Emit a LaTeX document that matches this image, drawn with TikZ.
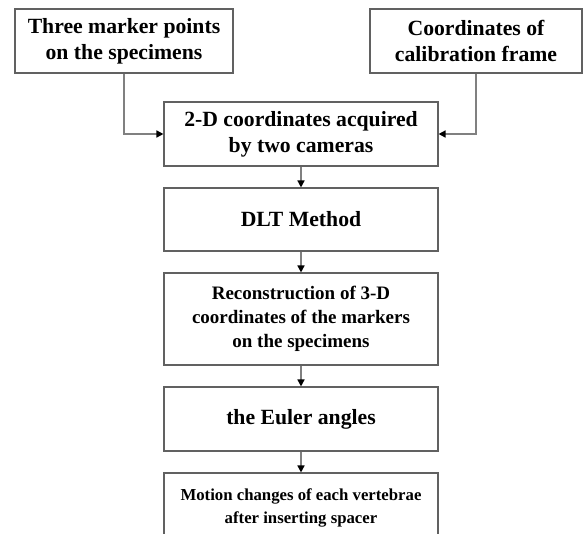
\documentclass[tikz,border=0pt]{standalone}
\usepackage{fontspec}
\setmainfont{Liberation Serif}
\usetikzlibrary{arrows.meta}
\tikzset{
  box/.style={draw=black!62, line width=1.1pt, rectangle, inner sep=0pt, align=center,
    font=\fontsize{21.7}{26}\selectfont\bfseries, text=black},
  conn/.style={draw=black!50, line width=1.5pt, -{Triangle[length=7pt,width=7pt,color=black]}},
}
\begin{document}
\begin{tikzpicture}[x=1pt,y=-1pt]
\useasboundingbox (0,0) rectangle (585,533);
\clip (0,0) rectangle (585,533);
\node[box, minimum width=218pt, minimum height=64pt] (b1) at (124,41) {Three marker points\\on the specimens};
\node[box, minimum width=212pt, minimum height=64pt] (b2) at (476,41) {Coordinates of\\calibration frame};
\node[box, minimum width=274pt, minimum height=64pt] (b3) at (301,134) {2-D coordinates acquired\\by two cameras};
\node[box, minimum width=274pt, minimum height=63pt] (b4) at (301,219.5) {DLT Method};
\node[box, minimum width=274pt, minimum height=92pt, font=\fontsize{19}{24}\selectfont\bfseries] (b5) at (301,319) {Reconstruction of 3-D\\coordinates of the markers\\on the specimens};
\node[box, minimum width=274pt, minimum height=64pt] (b6) at (301,419) {the Euler angles};
\node[box, minimum width=274pt, minimum height=70pt, font=\fontsize{16.75}{23}\selectfont\bfseries] (b7) at (301,508) {Motion changes of each vertebrae\\after inserting spacer};
\draw[conn] (b1.south) |- (b3.west);
\draw[conn] (b2.south) |- (b3.east);
\draw[conn] (b3) -- (b4);
\draw[conn] (b4) -- (b5);
\draw[conn] (b5) -- (b6);
\draw[conn] (b6) -- (b7);
\end{tikzpicture}
\end{document}
